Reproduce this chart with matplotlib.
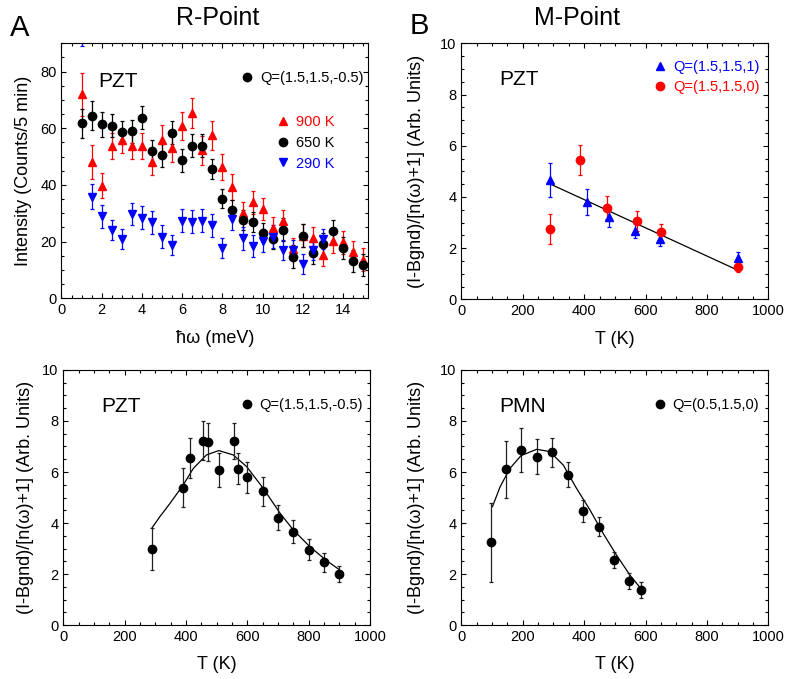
import numpy as np
import matplotlib
matplotlib.use('agg')
import matplotlib.pyplot as plt
from matplotlib.lines import Line2D
from matplotlib.ticker import MultipleLocator

plt.rcParams['font.family'] = ['Liberation Sans', 'DejaVu Sans']
plt.rcParams['font.size'] = 10.5

# --- A, top: R-point energy scans
hw = [1, 1.5, 2, 2.5, 3, 3.5, 4, 4.5, 5, 5.5, 6, 6.5, 7, 7.5, 8, 8.5, 9, 9.5,
      10, 10.5, 11, 11.5, 12, 12.5, 13, 13.5, 14, 14.5, 15]
i900 = [72.0, 48.0, 39.8, 53.7, 55.7, 53.7, 53.7, 48.1, 56.0, 53.1, 60.8, 65.3, 52.2, 57.5,
        46.3, 39.2, 30.1, 33.9, 31.5, 24.8, 27.1, 17.3, 22.1, 21.2, 15.3, 20.1, 19.7, 16.3, 13.6]
e900 = [7.5, 6.0, 4.5, 4.5, 4.5, 4.5, 4.5, 4.5, 5.0, 5.0, 5.0, 5.3, 5.0, 5.0,
        4.5, 4.5, 4.0, 4.0, 4.0, 4.0, 4.0, 4.0, 4.0, 4.0, 4.0, 4.0, 4.0, 4.0, 4.0]
i650 = [61.7, 64.5, 61.4, 60.9, 58.6, 58.9, 63.7, 51.9, 50.4, 58.4, 48.7, 53.9, 53.9, 45.7,
        35.2, 31.3, 27.5, 27.0, 23.2, 20.9, 24.2, 14.7, 22.1, 16.0, 19.2, 23.8, 17.7, 13.2, 11.8]
e650 = [5.0, 5.0, 4.5, 4.0, 4.0, 4.0, 4.0, 4.0, 4.0, 4.0, 4.0, 4.0, 4.0, 3.5,
        3.5, 3.5, 3.5, 3.5, 3.5, 3.5, 4.0, 4.0, 4.0, 4.0, 4.0, 4.0, 4.0, 4.0, 4.0]
hw290 = [1, 1.5, 2, 2.5, 3, 3.5, 4, 4.5, 5, 5.5, 6, 6.5, 7, 7.5, 8, 8.5, 9, 9.5,
         10, 10.5, 11, 11.5, 12, 12.5, 13]
i290 = [93.0, 35.8, 28.9, 24.0, 20.9, 29.7, 28.5, 26.8, 21.8, 18.9, 27.4, 27.0, 27.4, 25.8,
        17.7, 28.0, 21.2, 18.5, 20.3, 21.8, 16.9, 17.1, 12.2, 16.9, 20.9]
e290 = [4.0, 4.4, 4.0, 3.5, 3.5, 4.0, 4.0, 4.0, 4.0, 3.5, 4.0, 4.0, 4.0, 4.0,
        3.5, 4.0, 4.0, 4.0, 4.0, 4.0, 3.5, 3.5, 3.5, 3.5, 3.5]

# --- B, top: M-point PZT
T_q1 = [290, 408, 482, 567, 648, 900]
y_q1 = [4.66, 3.79, 3.23, 2.68, 2.35, 1.60]
e_q1 = [0.67, 0.50, 0.40, 0.30, 0.27, 0.25]
T_q0 = [290, 386, 473, 573, 652, 900]
y_q0 = [2.75, 5.44, 3.58, 3.06, 2.61, 1.27]
e_q0 = [0.60, 0.60, 0.45, 0.40, 0.33, 0.20]
fit_T = [290, 900]
fit_y = [4.50, 1.14]

# --- A, bottom: R-point PZT vs T
T_r = [290, 391, 413, 457, 473, 507, 557, 571, 600, 650, 700, 750, 800, 850, 900]
y_r = [2.98, 5.39, 6.55, 7.23, 7.18, 6.08, 7.22, 6.13, 5.80, 5.24, 4.20, 3.66, 2.95, 2.46, 2.01]
e_r = [0.83, 0.76, 0.78, 0.76, 0.75, 0.68, 0.70, 0.62, 0.61, 0.56, 0.49, 0.46, 0.41, 0.37, 0.32]
curve_r_T = [290, 315, 348, 391, 424, 467, 507, 554, 598, 652, 707, 750, 804, 859, 899]
curve_r_y = [3.82, 4.25, 4.77, 5.49, 6.14, 6.67, 6.84, 6.67, 6.21, 5.36, 4.38, 3.73, 3.07, 2.52, 2.18]

# --- B, bottom: PMN
T_p = [95, 145, 195, 245, 295, 347, 397, 447, 497, 547, 585]
y_p = [3.24, 6.10, 6.86, 6.60, 6.77, 5.90, 4.46, 3.86, 2.55, 1.73, 1.37]
e_p = [1.55, 1.10, 0.85, 0.68, 0.57, 0.49, 0.43, 0.38, 0.33, 0.30, 0.30]
curve_p_T = [101, 126, 158, 194, 245, 288, 332, 375, 419, 462, 505, 549, 584]
curve_p_y = [4.64, 5.42, 6.14, 6.64, 6.89, 6.80, 6.27, 5.36, 4.51, 3.59, 2.75, 1.96, 1.44]

RED = '#ff0000'
BLUE = '#0000ff'
LAB = 13

fig = plt.figure(figsize=(7.86, 6.79), dpi=100)
ax1 = fig.add_axes([0.0782, 0.5607, 0.3903, 0.3756])
ax2 = fig.add_axes([0.5871, 0.5592, 0.3903, 0.3770])
ax3 = fig.add_axes([0.0805, 0.0795, 0.3902, 0.3756])
ax4 = fig.add_axes([0.5871, 0.0795, 0.3903, 0.3756])


def style(ax, xmaj, xmin, ymaj, ymin):
    ax.xaxis.set_major_locator(MultipleLocator(xmaj))
    ax.xaxis.set_minor_locator(MultipleLocator(xmin))
    ax.yaxis.set_major_locator(MultipleLocator(ymaj))
    ax.yaxis.set_minor_locator(MultipleLocator(ymin))
    ax.tick_params(which='both', direction='in', top=True, right=True, labelsize=10.5)
    ax.tick_params(which='major', length=3.5, width=0.8)
    ax.tick_params(which='minor', length=2, width=0.8)
    for s in ax.spines.values():
        s.set_linewidth(0.8)


eb = dict(ls='none', capsize=1.5, elinewidth=0.9, capthick=0.9)

# top left
ax1.errorbar(hw, i900, yerr=e900, marker='^', ms=5.8, color=RED, **eb)
ax1.errorbar(hw, i650, yerr=e650, marker='o', ms=6, color='k', **eb)
ax1.errorbar(hw290, i290, yerr=e290, marker='v', ms=5.8, color=BLUE, **eb)
ax1.set_xlim(0, 15.25)
ax1.set_ylim(0, 90)
style(ax1, 2, 0.5, 20, 5)
ax1.set_xlabel('ħω (meV)', fontsize=LAB, labelpad=9)
ax1.set_ylabel('Intensity (Counts/5 min)', fontsize=LAB, labelpad=6)
ax1.text(0.121, 0.85, 'PZT', transform=ax1.transAxes, fontsize=15, va='center')
lq = ax1.legend([Line2D([], [], marker='o', ls='none', color='k', ms=6)],
                ['Q=(1.5,1.5,-0.5)'], loc='center right', bbox_to_anchor=(0.986, 0.863),
                frameon=False, borderpad=0, borderaxespad=0, handlelength=1.0,
                handletextpad=0.4, fontsize=10.5)
ax1.add_artist(lq)
h = [Line2D([], [], marker='^', ls='none', color=RED, ms=5.8),
     Line2D([], [], marker='o', ls='none', color='k', ms=6),
     Line2D([], [], marker='v', ls='none', color=BLUE, ms=5.8)]
leg = ax1.legend(h, ['900 K', '650 K', '290 K'], loc='center left',
                 bbox_to_anchor=(0.698, 0.609), frameon=False, borderpad=0,
                 borderaxespad=0, handlelength=1.0, handletextpad=0.4,
                 labelspacing=0.45, fontsize=10.5)
for t, c in zip(leg.get_texts(), [RED, 'k', BLUE]):
    t.set_color(c)

# top right
ax2.plot(fit_T, fit_y, color='k', lw=0.9)
ax2.errorbar(T_q1, y_q1, yerr=e_q1, marker='^', ms=6.2, color=BLUE, **eb)
ax2.errorbar(T_q0, y_q0, yerr=e_q0, marker='o', ms=6, color=RED, **eb)
ax2.set_xlim(0, 1000)
ax2.set_ylim(0, 10)
style(ax2, 200, 50, 2, 0.5)
ax2.set_xlabel('T (K)', fontsize=LAB, labelpad=9)
ax2.set_ylabel('(I-Bgnd)/[n(ω)+1] (Arb. Units)', fontsize=LAB, labelpad=11)
ax2.text(0.124, 0.859, 'PZT', transform=ax2.transAxes, fontsize=15, va='center')
h = [Line2D([], [], marker='^', ls='none', color=BLUE, ms=6.2),
     Line2D([], [], marker='o', ls='none', color=RED, ms=6)]
leg = ax2.legend(h, ['Q=(1.5,1.5,1)', 'Q=(1.5,1.5,0)'], loc='center left',
                 bbox_to_anchor=(0.625, 0.867), frameon=False, borderpad=0,
                 borderaxespad=0, handlelength=1.0, handletextpad=0.4,
                 labelspacing=0.4, fontsize=10.5)
for t, c in zip(leg.get_texts(), [BLUE, RED]):
    t.set_color(c)

# bottom left
ax3.plot(curve_r_T, curve_r_y, color='k', lw=0.9)
ax3.errorbar(T_r, y_r, yerr=e_r, marker='o', ms=6, color='k', ecolor='#222222', **eb)
ax3.set_xlim(0, 1000)
ax3.set_ylim(0, 10)
style(ax3, 200, 50, 2, 0.5)
ax3.set_xlabel('T (K)', fontsize=LAB, labelpad=9)
ax3.set_ylabel('(I-Bgnd)/[n(ω)+1] (Arb. Units)', fontsize=LAB, labelpad=6)
ax3.text(0.123, 0.855, 'PZT', transform=ax3.transAxes, fontsize=15, va='center')
ax3.legend([Line2D([], [], marker='o', ls='none', color='k', ms=6)],
           ['Q=(1.5,1.5,-0.5)'], loc='center right', bbox_to_anchor=(0.978, 0.863),
           frameon=False, borderpad=0, borderaxespad=0, handlelength=1.0,
           handletextpad=0.4, fontsize=10.5)

# bottom right
ax4.plot(curve_p_T, curve_p_y, color='k', lw=0.9)
ax4.errorbar(T_p, y_p, yerr=e_p, marker='o', ms=6, color='k', ecolor='#222222', **eb)
ax4.set_xlim(0, 1000)
ax4.set_ylim(0, 10)
style(ax4, 200, 50, 2, 0.5)
ax4.set_xlabel('T (K)', fontsize=LAB, labelpad=9)
ax4.set_ylabel('(I-Bgnd)/[n(ω)+1] (Arb. Units)', fontsize=LAB, labelpad=11)
ax4.text(0.124, 0.855, 'PMN', transform=ax4.transAxes, fontsize=15, va='center')
ax4.legend([Line2D([], [], marker='o', ls='none', color='k', ms=6)],
           ['Q=(0.5,1.5,0)'], loc='center right', bbox_to_anchor=(0.971, 0.863),
           frameon=False, borderpad=0, borderaxespad=0, handlelength=1.0,
           handletextpad=0.4, fontsize=10.5)

# panel letters and titles
fig.text(10 / 786, 1 - 28 / 679, 'A', fontsize=21, va='center', ha='left')
fig.text(410 / 786, 1 - 26 / 679, 'B', fontsize=21, va='center', ha='left')
fig.text(218 / 786, 1 - 18 / 679, 'R-Point', fontsize=18, va='center', ha='center')
fig.text(577 / 786, 1 - 18 / 679, 'M-Point', fontsize=18, va='center', ha='center')

fig.savefig('out.png', dpi=100)
